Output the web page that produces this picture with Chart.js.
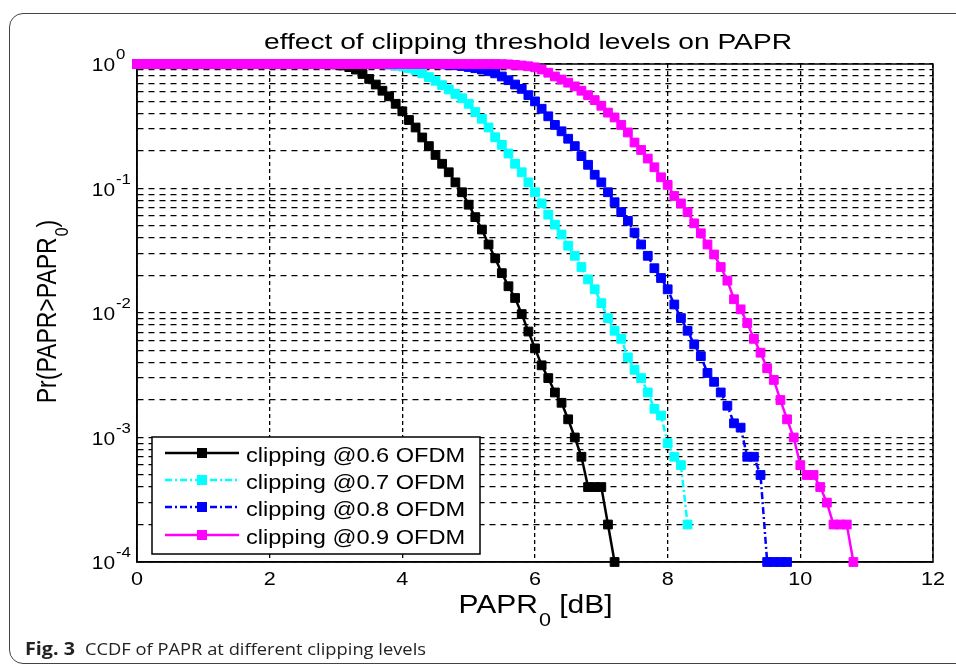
<!DOCTYPE html>
<html>
<head>
<meta charset="utf-8">
<script src="https://cdn.jsdelivr.net/npm/chart.js@4.4.0/dist/chart.umd.min.js"></script>
<style>
  body { margin: 0; background: #fff; }
  #frame { position: absolute; left: 9px; top: 13px; width: 990px; height: 649px;
           border: 1.3px solid #444; border-radius: 14px; }
  #ccdf { position: absolute; left: 0; top: 0; }
</style>
</head>
<body>
<div id="frame"></div>
<canvas id="ccdf" width="956" height="666"></canvas>
<script>
// PAPR0 grid in dB (0.1 dB steps)
const papr0 = [
  0.0, 0.1, 0.2, 0.3, 0.4, 0.5, 0.6, 0.7, 0.8, 0.9,
  1.0, 1.1, 1.2, 1.3, 1.4, 1.5, 1.6, 1.7, 1.8, 1.9,
  2.0, 2.1, 2.2, 2.3, 2.4, 2.5, 2.6, 2.7, 2.8, 2.9,
  3.0, 3.1, 3.2, 3.3, 3.4, 3.5, 3.6, 3.7, 3.8, 3.9,
  4.0, 4.1, 4.2, 4.3, 4.4, 4.5, 4.6, 4.7, 4.8, 4.9,
  5.0, 5.1, 5.2, 5.3, 5.4, 5.5, 5.6, 5.7, 5.8, 5.9,
  6.0, 6.1, 6.2, 6.3, 6.4, 6.5, 6.6, 6.7, 6.8, 6.9,
  7.0, 7.1, 7.2, 7.3, 7.4, 7.5, 7.6, 7.7, 7.8, 7.9,
  8.0, 8.1, 8.2, 8.3, 8.4, 8.5, 8.6, 8.7, 8.8, 8.9,
  9.0, 9.1, 9.2, 9.3, 9.4, 9.5, 9.6, 9.7, 9.8, 9.9,
  10.0, 10.1, 10.2, 10.3, 10.4, 10.5, 10.6, 10.7, 10.8
];

// CCDF values, one per PAPR0 step
const ccdf06 = [
  1, 1, 1, 1, 1, 1, 1, 1, 1, 1,
  1, 1, 1, 1, 1, 1, 1, 1, 1, 1,
  1, 1, 1, 1, 1, 1, 1, 1, 1, 1,
  0.991, 0.973, 0.944, 0.902, 0.832, 0.759, 0.684, 0.610, 0.550, 0.479,
  0.417, 0.355, 0.309, 0.257, 0.219, 0.186, 0.158, 0.135, 0.112, 0.0933,
  0.0741, 0.0589, 0.0468, 0.0355, 0.0275, 0.0209, 0.0164, 0.0132, 0.0098, 0.0071,
  0.0052, 0.0038, 0.0030, 0.0023, 0.0019, 0.0014, 0.0010, 0.0007, 0.0004, 0.0004,
  0.0004, 0.0002, 0.0001
];
const ccdf07 = [
  1, 1, 1, 1, 1, 1, 1, 1, 1, 1,
  1, 1, 1, 1, 1, 1, 1, 1, 1, 1,
  1, 1, 1, 1, 1, 1, 1, 1, 1, 1,
  1, 1, 1, 1, 1, 1, 1, 0.995, 0.986, 0.973,
  0.955, 0.929, 0.891, 0.841, 0.785, 0.733, 0.676, 0.624, 0.575, 0.531,
  0.479, 0.411, 0.363, 0.309, 0.258, 0.224, 0.191, 0.158, 0.135, 0.112,
  0.0933, 0.0759, 0.0617, 0.0513, 0.0427, 0.0347, 0.0288, 0.0234, 0.0186, 0.0155,
  0.0120, 0.0091, 0.0072, 0.0062, 0.0044, 0.0035, 0.0030, 0.0023, 0.0017, 0.0015,
  0.0009, 0.0007, 0.0006, 0.0002
];
const ccdf08 = [
  1, 1, 1, 1, 1, 1, 1, 1, 1, 1,
  1, 1, 1, 1, 1, 1, 1, 1, 1, 1,
  1, 1, 1, 1, 1, 1, 1, 1, 1, 1,
  1, 1, 1, 1, 1, 1, 1, 1, 1, 1,
  1, 1, 1, 1, 1, 0.998, 0.993, 0.986, 0.977, 0.964,
  0.946, 0.925, 0.902, 0.875, 0.841, 0.794, 0.741, 0.684, 0.631, 0.562,
  0.501, 0.437, 0.380, 0.324, 0.288, 0.251, 0.219, 0.182, 0.155, 0.129,
  0.112, 0.0933, 0.0776, 0.0646, 0.0550, 0.0442, 0.0355, 0.0288, 0.0229, 0.0191,
  0.0155, 0.0117, 0.0091, 0.0072, 0.0056, 0.0045, 0.0033, 0.0028, 0.0023, 0.0018,
  0.0013, 0.0012, 0.0007, 0.0007, 0.0005, 0.0001, 0.0001, 0.0001, 0.0001
];
const ccdf09 = [
  1, 1, 1, 1, 1, 1, 1, 1, 1, 1,
  1, 1, 1, 1, 1, 1, 1, 1, 1, 1,
  1, 1, 1, 1, 1, 1, 1, 1, 1, 1,
  1, 1, 1, 1, 1, 1, 1, 1, 1, 1,
  1, 1, 1, 1, 1, 1, 1, 1, 1, 1,
  1, 1, 1, 1, 1, 0.998, 0.993, 0.984, 0.973, 0.959,
  0.940, 0.902, 0.851, 0.794, 0.750, 0.708, 0.661, 0.610, 0.562, 0.513,
  0.462, 0.407, 0.372, 0.324, 0.282, 0.234, 0.204, 0.174, 0.148, 0.123,
  0.107, 0.0871, 0.0759, 0.0646, 0.0525, 0.0437, 0.0355, 0.0295, 0.0234, 0.0182,
  0.0129, 0.0107, 0.0083, 0.0062, 0.0048, 0.0036, 0.0029, 0.0020, 0.0014, 0.0010,
  0.0006, 0.0005, 0.0005, 0.0004, 0.0003, 0.0002, 0.0002, 0.0002, 0.0001
];

const seriesNames = ["clipping @0.6 OFDM", "clipping @0.7 OFDM", "clipping @0.8 OFDM", "clipping @0.9 OFDM"];
const seriesColors = ["#000000", "#00ffff", "#0000ff", "#ff00ff"];
const seriesDash = [[], [7, 3, 2, 3], [7, 3, 2, 3], []];
const allSeries = [ccdf06, ccdf07, ccdf08, ccdf09];

const xTicks = [0, 2, 4, 6, 8, 10, 12];
const yDecades = [1e-4, 1e-3, 1e-2, 1e-1, 1];
const yExponents = ["-4", "-3", "-2", "-1", "0"];

const FONT = "'Liberation Sans', Arial, sans-serif";

// text drawn with a horizontal stretch (the figure is a bit wide)
function stext(ctx, s, x, y, size, align, sx, weight) {
    ctx.save();
    ctx.font = (weight || "") + " " + size + "px " + FONT;
    ctx.textAlign = align;
    ctx.textBaseline = "alphabetic";
    ctx.translate(x, y);
    ctx.scale(sx, 1);
    ctx.fillText(s, 0, 0);
    ctx.restore();
}

const figText = {
    id: "figText",
    beforeDatasetsDraw(chart) {
        // top and right side of the axes box
        const { ctx, chartArea: a } = chart;
        ctx.save();
        ctx.strokeStyle = "#000";
        ctx.lineWidth = 1.5;
        ctx.strokeRect(a.left, a.top, a.right - a.left, a.bottom - a.top);
        ctx.restore();
    },
    afterDraw(chart) {
        const ctx = chart.ctx;
        const xs = chart.scales.x, ys = chart.scales.y;
        ctx.fillStyle = "#000";

        // title
        stext(ctx, "effect of clipping threshold levels on PAPR", 528, 49, 22, "center", 1.28);

        // x tick labels
        xTicks.forEach(v => stext(ctx, String(v), xs.getPixelForValue(v), 585, 18, "center", 1.2));

        // y tick labels 10^n
        yDecades.forEach((v, i) => {
            const py = ys.getPixelForValue(v);
            stext(ctx, "10", 115, py + 7, 19, "right", 1.1);
            stext(ctx, yExponents[i], 116, py - 5, 14, "left", 1.2);
        });

        // x label PAPR_0 [dB]
        ctx.save();
        ctx.font = "25px " + FONT;
        const w1 = ctx.measureText("PAPR").width * 1.2;
        const w3 = ctx.measureText(" [dB]").width * 1.2;
        ctx.font = "18px " + FONT;
        const w2 = ctx.measureText("0").width * 1.2;
        ctx.restore();
        let x0 = 535 - (w1 + w2 + w3) / 2;
        stext(ctx, "PAPR", x0, 613, 25, "left", 1.2);
        stext(ctx, "0", x0 + w1 + 1, 626, 18, "left", 1.2);
        stext(ctx, " [dB]", x0 + w1 + w2 + 1, 613, 25, "left", 1.2);

        // y label Pr(PAPR>PAPR_0), rotated
        ctx.save();
        ctx.translate(56, 312);
        ctx.rotate(-Math.PI / 2);
        ctx.scale(1, 1.2);
        ctx.font = "23px " + FONT;
        const a1 = ctx.measureText("Pr(PAPR>PAPR").width;
        const a3 = ctx.measureText(")").width;
        ctx.font = "16px " + FONT;
        const a2 = ctx.measureText("0").width;
        let s0 = -(a1 + a2 + a3) / 2;
        ctx.textBaseline = "alphabetic";
        ctx.font = "23px " + FONT;
        ctx.fillText("Pr(PAPR>PAPR", s0, 0);
        ctx.font = "16px " + FONT;
        ctx.fillText("0", s0 + a1 + 1, 10);
        ctx.font = "23px " + FONT;
        ctx.fillText(")", s0 + a1 + a2 + 1, 0);
        ctx.restore();

        // legend box
        ctx.save();
        ctx.fillStyle = "#fff";
        ctx.fillRect(152, 437, 328, 117);
        ctx.strokeStyle = "#000";
        ctx.lineWidth = 1.5;
        ctx.strokeRect(152, 437, 328, 117);
        const rows = [453, 480, 507, 535];
        seriesNames.forEach((name, i) => {
            const ry = rows[i];
            ctx.strokeStyle = seriesColors[i];
            ctx.lineWidth = 2.5;
            ctx.setLineDash(seriesDash[i]);
            ctx.beginPath();
            ctx.moveTo(165, ry);
            ctx.lineTo(239, ry);
            ctx.stroke();
            ctx.setLineDash([]);
            ctx.fillStyle = seriesColors[i];
            ctx.fillRect(197, ry - 5, 10, 10);
            ctx.fillStyle = "#000";
            stext(ctx, name, 246, ry + 8.5, 20.5, "left", 1.15);
        });
        ctx.restore();

        // caption
        ctx.save();
        ctx.fillStyle = "#222";
        ctx.font = "bold 17px 'Open Sans', sans-serif";
        const fw = ctx.measureText("Fig. 3").width;
        ctx.translate(25, 655);
        ctx.scale(50 / fw, 1);
        ctx.fillText("Fig. 3", 0, 0);
        ctx.restore();
        ctx.save();
        ctx.fillStyle = "#222";
        ctx.font = "17px 'Open Sans', sans-serif";
        const cap = "CCDF of PAPR at different clipping levels";
        const cw = ctx.measureText(cap).width;
        ctx.translate(85, 655);
        ctx.scale(341 / cw, 1);
        ctx.fillText(cap, 0, 0);
        ctx.restore();
    }
};

const datasets = allSeries.map((vals, i) => ({
    label: seriesNames[i],
    data: vals.map((v, k) => ({ x: papr0[k], y: v })),
    borderColor: seriesColors[i],
    backgroundColor: seriesColors[i],
    borderWidth: 2.5,
    borderDash: seriesDash[i],
    pointStyle: "rect",
    pointRadius: 6.2,
    pointBorderWidth: 1,
    tension: 0,
    clip: false,
    order: 4 - i
}));

new Chart(document.getElementById("ccdf").getContext("2d"), {
    type: "line",
    data: { datasets },
    plugins: [figText],
    options: {
        responsive: false,
        animation: false,
        layout: { padding: { left: 137, right: 23, top: 64, bottom: 104 } },
        plugins: { legend: { display: false }, tooltip: { enabled: false } },
        scales: {
            x: {
                type: "linear", min: 0, max: 12,
                ticks: { display: false, stepSize: 2 },
                grid: { color: "#000", lineWidth: 1.3, drawTicks: false },
                border: { display: true, color: "#000", width: 1.5, dash: [4, 3] }
            },
            y: {
                type: "logarithmic", min: 1e-4, max: 1,
                ticks: { display: false },
                afterBuildTicks(axis) {
                    const t = [];
                    yDecades.forEach(d => {
                        if (d === 1) { t.push({ value: 1 }); return; }
                        for (let m = 1; m <= 9; m++) t.push({ value: m * d });
                    });
                    axis.ticks = t;
                },
                grid: { color: "#000", lineWidth: 1.3, drawTicks: false },
                border: { display: true, color: "#000", width: 1.5, dash: [6, 5] }
            }
        }
    }
});
</script>
</body>
</html>
